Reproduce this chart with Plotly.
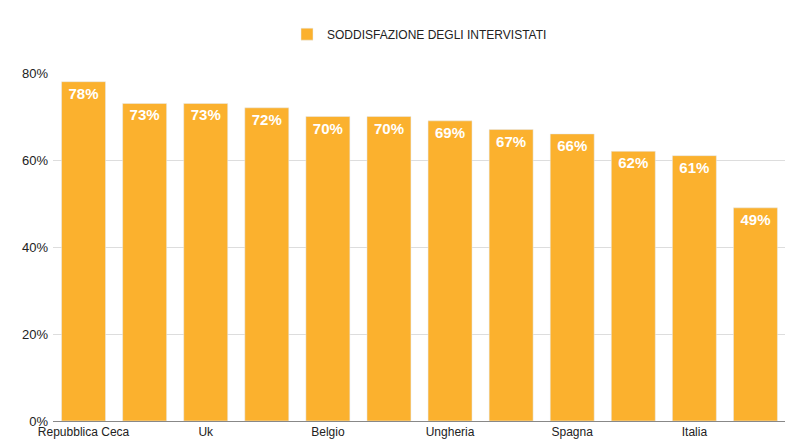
import plotly.graph_objects as go

# 12 bars, only every other one is labelled in the original
positions = list(range(12))
values = [0.78, 0.73, 0.73, 0.72, 0.70, 0.70, 0.69, 0.67, 0.66, 0.62, 0.61, 0.49]
tick_pos = [0, 2, 4, 6, 8, 10]
tick_labels = ["Repubblica Ceca", "Uk", "Belgio", "Ungheria", "Spagna", "Italia"]
series_name = "SODDISFAZIONE DEGLI INTERVISTATI"

fig = go.Figure()
fig.add_trace(go.Bar(
    x=positions, y=values, name=series_name,
    marker_color="#FBB12E",
    text=[f"<b>{round(v * 100)}%</b>" for v in values],
    textposition="inside", insidetextanchor="end", textangle=0,
    textfont=dict(color="white", size=15, family="Liberation Sans"),
))

fig.update_layout(
    width=793, height=446,
    margin=dict(l=45, r=15, t=52, b=33),
    plot_bgcolor="white", paper_bgcolor="white",
    font=dict(family="Liberation Sans", size=13, color="#222"),
    bargap=0.28,
    showlegend=True,
    legend=dict(orientation="h", x=0.5, xanchor="center", y=1.07, yanchor="bottom",
                font=dict(size=12)),
    xaxis=dict(tickmode="array", tickvals=tick_pos, ticktext=tick_labels,
               range=[-0.5, 11.5], showgrid=False, showline=True, linecolor="#888",
               ticks="", tickfont=dict(size=12)),
    yaxis=dict(range=[0, 0.8], tickvals=[0, 0.2, 0.4, 0.6, 0.8], tickformat=".0%",
               gridcolor="#ddd", zeroline=False, ticks="", ticklabelstandoff=4),
)

fig.write_html("out.html")
